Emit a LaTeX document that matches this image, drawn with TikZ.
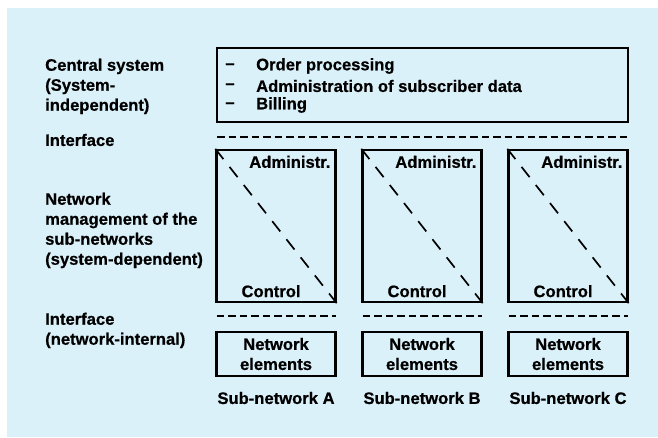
\documentclass[tikz,border=0pt]{standalone}
\usepackage{fontspec}
\setmainfont{Liberation Sans}[BoldFeatures={FakeBold=0.6}]
\definecolor{paleblue}{RGB}{219,241,249}

\begin{document}
\begin{tikzpicture}[x=1pt,y=-1pt,
    every node/.style={font=\fontsize{16.6}{20}\selectfont\bfseries, inner sep=0pt},
    frame/.style={draw, line width=2.3pt},
    iface/.style={line width=2.6pt, dash pattern=on 7.5pt off 4pt},
    split/.style={line width=1.7pt, dash pattern=on 13pt off 10pt}]
    % Background
    \fill [white] (0,0) rectangle (658,437);
    \fill [paleblue] (7,8) rectangle (658,437);
    \useasboundingbox (0,0) rectangle (658,437);

    % Labels on the left
    \node (lcentral) at (45,58.5) [anchor=north west, align=left] {Central system\\(System-\\independent)};
    \node (liface) at (45,140) [anchor=west] {Interface};
    \node (lmanage) at (45,192.5) [anchor=north west, align=left] {Network\\management of the\\sub-networks\\(system-dependent)};
    \node (linternal) at (45,312.5) [anchor=north west, align=left] {Interface\\(network-internal)};

    % Central system
    \node (central) at (422.5,85) [frame, minimum width=411pt, minimum height=74pt] {};
    \node (d1) at (230,66) {\textendash};
    \node (d2) at (230,86) {\textendash};
    \node (d3) at (230,105) {\textendash};
    \node (order) at (256,66) [anchor=west] {Order processing};
    \node (admin) at (256,86) [anchor=west] {Administration of subscriber data};
    \node (billing) at (256,105) [anchor=west] {Billing};

    % Interface
    \coordinate (i1) at (217,137);
    \coordinate (i2) at (628,137);
    \draw [iface] (i1) -- (i2);

    % Sub-networks
    \foreach \n/\x in {A/276,B/422,C/568} {
        \node (sub\n) at (\x,226) [frame, minimum width=119pt, minimum height=152pt] {};
        \draw [split] (sub\n.north west) -- (sub\n.south east);
        \node (adm\n) at ([shift={(-6,13)}]sub\n.north east) [anchor=east] {Administr.};
        \node (ctl\n) at ([shift={(26,-12)}]sub\n.south west) [anchor=west] {Control};
        \coordinate (j\n1) at (\x-59.5,316);
        \coordinate (j\n2) at (\x+59.5,316);
        \draw [iface] (j\n1) -- (j\n2);
        \node (ne\n) at (\x,354) [frame, minimum width=119pt, minimum height=44pt, align=center] {Network\\elements};
        \node (name\n) at (\x,398) {Sub-network \n};
    }
\end{tikzpicture}
\end{document}
